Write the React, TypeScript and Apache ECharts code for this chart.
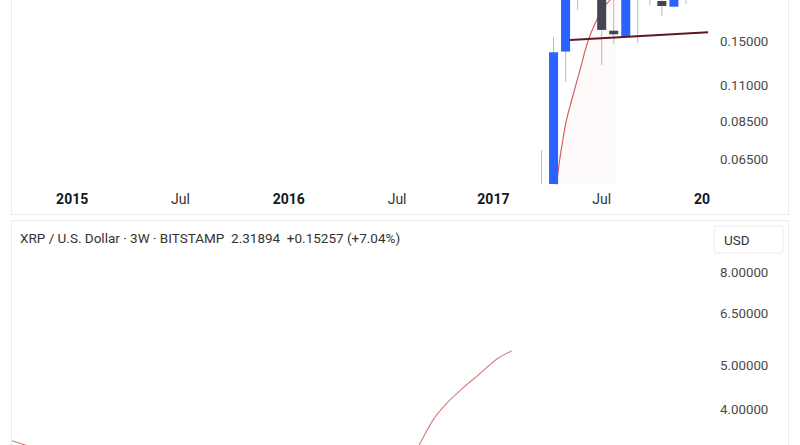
import React, { useEffect, useRef } from 'react';
import * as echarts from 'echarts';

// ---- data (bar index on x, price in USD on y) ----
const candleIndex = [0, 1, 2, 3, 4, 5, 6, 7, 8, 9, 10, 11, 12];
const candleOpen = [0.030, 0.036, 0.140, 0.300, 0.260, 0.250, 0.1625, 0.1565, 0.230, 0.210, 0.2009, 0.1929, 0.210];
const candleClose = [0.034, 0.1393, 0.250, 0.260, 0.280, 0.1634, 0.1584, 0.220, 0.210, 0.220, 0.1938, 0.210, 0.215];
const candleLow = [0.028, 0.033, 0.1129, 0.1884, 0.215, 0.1272, 0.1478, 0.156, 0.1489, 0.1953, 0.1805, 0.192, 0.1967];
const candleHigh = [0.0693, 0.1554, 0.300, 0.350, 0.330, 0.290, 0.215, 0.240, 0.250, 0.240, 0.215, 0.220, 0.230];

const curveIndex = [1.25, 1.45, 1.70, 2.04, 2.51, 3.20, 3.89, 4.59, 5.11, 5.69, 6.19];
const curvePrice = [0.0535, 0.0623, 0.0718, 0.0847, 0.0991, 0.1228, 0.1521, 0.1754, 0.1911, 0.2020, 0.211];

const trendIndex = [2.37, 13.84];
const trendPrice = [0.1521, 0.1607];

const lowerLeftIndex = [-44, -42.9, -42.5];
const lowerLeftPrice = [3.427, 3.354, 3.32];
const lowerRightIndex = [-10.35, -10.16, -9.02, -7.88, -6.44, -5.11, -3.70, -2.48];
const lowerRightPrice = [3.27, 3.354, 3.80, 4.135, 4.489, 4.804, 5.167, 5.387];

const xLabelPos = [-39, -30, -21, -12, -4, 5, 13.33];
const xLabelText = ['2015', 'Jul', '2016', 'Jul', '2017', 'Jul', '20'];
const xLabelBold = [true, false, true, false, true, false, true];

const topTicks = [0.15, 0.11, 0.085, 0.065];
const bottomTicks = [8, 6.5, 5, 4];

const topRange = [0.0544, 0.2023];
const bottomRange = [3.354, 10.34];
const xRange = [-44, 14];

const titleText = 'XRP / U.S. Dollar · 3W · BITSTAMP  2.31894  +0.15257 (+7.04%)';
const currencyText = 'USD';

const FONT = 'Roboto, "Noto Sans", sans-serif';

export default function App() {
  const ref = useRef<HTMLDivElement>(null);
  useEffect(() => {
    if (!ref.current) return;
    const chart = echarts.init(ref.current, null, { renderer: 'svg' });
    const ln = Math.log;

    const candleData = candleIndex.map((x, i) => [x, ln(candleOpen[i]), ln(candleClose[i]), ln(candleLow[i]), ln(candleHigh[i])]);
    const curveData = curveIndex.map((x, i) => [x, ln(curvePrice[i])]);
    const trendData = trendIndex.map((x, i) => [x, ln(trendPrice[i])]);
    const lowerLeft = lowerLeftIndex.map((x, i) => [x, ln(lowerLeftPrice[i])]);
    const lowerRight = lowerRightIndex.map((x, i) => [x, ln(lowerRightPrice[i])]);

    const hidden = { show: false };
    const priceLabel = (ticks: number[]) => ({
      customValues: ticks.map(ln),
      formatter: (v: number) => Math.exp(v).toFixed(5),
      color: '#4a4a4a',
      fontSize: 13.3,
      fontFamily: FONT,
      margin: 10,
    });

    chart.setOption({
      animation: false,
      backgroundColor: '#ffffff',
      title: {
        text: titleText,
        left: 20,
        top: 231,
        padding: 0,
        textStyle: { fontSize: 13.5, fontWeight: 'normal', color: '#333333', fontFamily: FONT },
      },
      grid: [
        { left: 12, top: 0, width: 698, height: 184 },
        { left: 12, top: 221, width: 698, height: 224 },
      ],
      xAxis: [
        {
          type: 'value', gridIndex: 0, min: xRange[0], max: xRange[1],
          axisLine: hidden, axisTick: hidden, splitLine: hidden,
          axisLabel: {
            customValues: xLabelPos,
            margin: 8,
            formatter: (v: number) => {
              const k = xLabelPos.findIndex((p) => Math.abs(p - v) < 0.01);
              if (k < 0) return '';
              return xLabelBold[k] ? `{b|${xLabelText[k]}}` : `{n|${xLabelText[k]}}`;
            },
            rich: {
              b: { fontSize: 14, fontWeight: 'bold', color: '#131722', fontFamily: FONT },
              n: { fontSize: 14, fontWeight: 'normal', color: '#333333', fontFamily: FONT },
            },
          },
        },
        {
          type: 'value', gridIndex: 1, min: xRange[0], max: xRange[1],
          axisLine: hidden, axisTick: hidden, splitLine: hidden, axisLabel: hidden,
        },
      ],
      yAxis: [
        {
          type: 'value', gridIndex: 0, position: 'right', min: ln(topRange[0]), max: ln(topRange[1]),
          axisLine: hidden, axisTick: hidden, splitLine: hidden,
          axisLabel: priceLabel(topTicks),
        },
        {
          type: 'value', gridIndex: 1, position: 'right', min: ln(bottomRange[0]), max: ln(bottomRange[1]),
          axisLine: hidden, axisTick: hidden, splitLine: hidden,
          axisLabel: priceLabel(bottomTicks),
        },
      ],
      graphic: [
        { type: 'rect', z: -1, shape: { x: 11.5, y: -10, width: 777, height: 224.5 }, style: { fill: 'none', stroke: '#ececec', lineWidth: 1 } },
        { type: 'rect', z: -1, shape: { x: 11.5, y: 220.5, width: 777, height: 240 }, style: { fill: 'none', stroke: '#ececec', lineWidth: 1 } },
        {
          type: 'group', children: [
            { type: 'rect', shape: { x: 714, y: 226, width: 69, height: 27, r: 3 }, style: { fill: '#ffffff', stroke: '#ebebeb', lineWidth: 1 } },
            { type: 'text', x: 724, y: 240, style: { text: currencyText, fontSize: 13.5, fill: '#333333', fontFamily: FONT, verticalAlign: 'middle' } },
          ],
        },
      ],
      series: [
        {
          type: 'line', xAxisIndex: 0, yAxisIndex: 0, data: curveData, smooth: 0.4, symbol: 'none', clip: true,
          lineStyle: { color: '#d0625f', width: 1.2 },
          areaStyle: { color: 'rgba(240, 170, 170, 0.09)', origin: 'start' },
          z: 1,
        },
        {
          type: 'custom', xAxisIndex: 0, yAxisIndex: 0, data: candleData, clip: true, z: 2,
          renderItem: (params: any, api: any) => {
            const x = api.value(0);
            const o = api.value(1), c = api.value(2), l = api.value(3), h = api.value(4);
            const pO = api.coord([x, o]);
            const pC = api.coord([x, c]);
            const pL = api.coord([x, l]);
            const pH = api.coord([x, h]);
            const w = api.size([1, 0])[0] * 0.75;
            const up = c >= o;
            const cs = params.coordSys;
            return {
              type: 'group',
              clipPath: { type: 'rect', shape: { x: cs.x, y: cs.y, width: cs.width, height: cs.height } },
              children: [
                { type: 'line', shape: { x1: pL[0], y1: pL[1], x2: pH[0], y2: pH[1] }, style: { stroke: '#b8bbc2', lineWidth: 1 } },
                {
                  type: 'rect',
                  shape: { x: pO[0] - w / 2, y: Math.min(pO[1], pC[1]), width: w, height: Math.max(1, Math.abs(pO[1] - pC[1])) },
                  style: { fill: up ? '#2962ff' : '#434651' },
                },
              ],
            };
          },
        },
        {
          type: 'line', xAxisIndex: 0, yAxisIndex: 0, data: trendData, symbol: 'none', clip: true,
          lineStyle: { color: '#5c1a20', width: 2 }, z: 3,
        },
        {
          type: 'line', xAxisIndex: 1, yAxisIndex: 1, data: lowerLeft, symbol: 'none', clip: true,
          lineStyle: { color: '#d98080', width: 1.2 },
        },
        {
          type: 'line', xAxisIndex: 1, yAxisIndex: 1, data: lowerRight, symbol: 'none', smooth: 0.3, clip: true,
          lineStyle: { color: '#d98080', width: 1.2 },
        },
      ],
    });
    return () => chart.dispose();
  }, []);
  return <div ref={ref} style={{ position: 'fixed', left: 0, top: 0, width: 800, height: 445, background: '#fff' }} />;
}
